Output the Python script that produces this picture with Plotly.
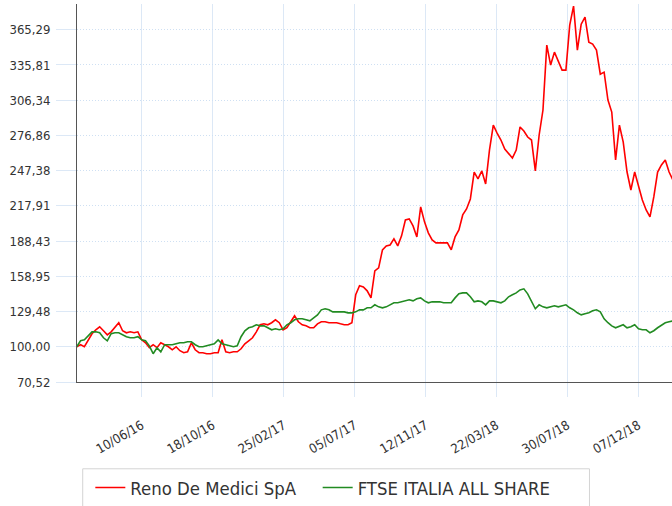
import pandas as pd
import plotly.graph_objects as go

# Weekly observation dates (Fridays)
dates = pd.date_range("2016-02-12", periods=157, freq="7D")

reno = [
    100.0, 101.7, 100.0, 105.8, 110.9, 114.2, 116.7, 113.4, 110.0, 112.5,
    115.9, 120.1, 113.4, 111.7, 112.5, 111.7, 112.5, 105.8, 103.3, 99.2,
    101.7, 99.2, 103.3, 101.7, 100.0, 97.5, 100.0, 96.7, 95.0, 95.8,
    103.3, 97.5, 95.0, 95.0, 94.2, 94.2, 95.0, 95.0, 105.8, 95.8,
    95.0, 95.8, 95.8, 98.3, 102.5, 105.0, 107.5, 112.5, 118.4, 119.2,
    118.4, 120.1, 122.6, 120.1, 114.2, 115.9, 120.9, 125.9, 120.9, 118.4,
    117.5, 115.9, 115.9, 119.2, 120.9, 120.9, 120.1, 120.1, 120.1, 119.2,
    118.4, 118.4, 120.1, 143.5, 151.0, 150.1, 146.8, 141.0, 163.5, 166.0,
    181.1, 184.4, 185.2, 190.3, 184.4, 192.8, 206.1, 207.0, 201.1, 191.9,
    217.0, 204.5, 195.3, 189.4, 186.9, 186.9, 186.9, 186.9, 181.1, 191.9,
    197.8, 210.3, 215.3, 223.7, 246.2, 240.4, 247.1, 236.2, 264.6, 285.5,
    278.8, 273.0, 265.5, 261.3, 257.9, 264.6, 283.9, 280.5, 275.5, 273.0,
    247.1, 277.2, 298.1, 352.4, 335.7, 346.5, 339.0, 331.5, 331.5, 369.1,
    385.0, 348.2, 369.9, 375.8, 354.9, 353.2, 348.2, 328.1, 329.8, 306.4,
    296.4, 256.3, 285.5, 271.3, 246.2, 231.2, 246.2, 235.4, 222.8, 214.5,
    208.6, 225.4, 246.2, 252.1, 256.3, 246.2, 239.6,
]

ftse = [
    100.0, 105.0, 105.8, 109.2, 112.5, 112.5, 111.7, 107.5, 105.0, 110.9,
    111.7, 111.7, 110.0, 108.4, 107.5, 107.5, 108.4, 105.8, 105.0, 100.8,
    94.2, 99.2, 95.8, 101.7, 101.7, 101.7, 102.5, 103.3, 103.3, 104.2,
    104.2, 101.7, 100.0, 100.0, 100.8, 101.7, 102.5, 105.8, 102.5, 101.7,
    100.8, 100.0, 100.8, 108.4, 113.4, 115.9, 116.7, 118.4, 117.5, 117.5,
    115.9, 114.2, 115.0, 114.2, 115.0, 118.4, 120.1, 122.6, 123.4, 123.4,
    122.6, 121.7, 124.2, 126.7, 130.9, 131.8, 130.9, 129.2, 129.2, 129.2,
    129.2, 128.4, 128.4, 129.2, 130.9, 130.9, 132.6, 132.6, 135.1, 133.4,
    132.6, 133.4, 135.1, 136.8, 136.8, 137.6, 138.4, 139.3, 138.4, 140.1,
    140.9, 138.4, 136.8, 137.6, 137.6, 137.6, 136.8, 136.8, 136.8, 140.9,
    144.3, 145.1, 145.1, 141.8, 137.6, 138.4, 137.6, 135.1, 138.4, 138.4,
    137.6, 136.8, 138.4, 141.8, 143.5, 145.1, 147.6, 148.5, 144.3, 137.6,
    131.8, 135.1, 133.4, 132.6, 133.4, 134.3, 133.4, 134.3, 135.1, 132.6,
    130.9, 128.4, 126.7, 127.6, 128.4, 130.1, 130.9, 129.2, 123.4, 120.1,
    117.5, 115.9, 117.5, 118.4, 115.9, 116.7, 118.4, 115.0, 114.2, 114.2,
    111.7, 113.4, 115.9, 118.4, 120.1, 120.9, 121.7,
]

series_names = ["Reno De Medici SpA", "FTSE ITALIA ALL SHARE"]
series_colors = ["#ff0000", "#228b22"]

x_tick_dates = ["2016-06-10", "2016-10-18", "2017-02-25", "2017-07-05",
                "2017-11-12", "2018-03-22", "2018-07-30", "2018-12-07"]
y_tick_vals = [70.52, 100.00, 129.48, 158.95, 188.43, 217.91,
               247.38, 276.86, 306.34, 335.81, 365.29]
y_tick_text = ["70,52", "100,00", "129,48", "158,95", "188,43", "217,91",
               "247,38", "276,86", "306,34", "335,81", "365,29"]

FONT = "DejaVu Sans Condensed, DejaVu Sans, sans-serif"

fig = go.Figure()
for name, vals, col, lg in zip(series_names, [reno, ftse], series_colors,
                               ["legend", "legend2"]):
    fig.add_trace(go.Scatter(x=dates, y=vals, mode="lines", name=name,
                             legend=lg, line=dict(color=col, width=1.6)))

legend_style = dict(orientation="h", xanchor="left", y=-0.2296, yanchor="top",
                    font=dict(size=18.4, family=FONT, color="#333333"),
                    borderwidth=0, bgcolor="rgba(0,0,0,0)")

fig.update_layout(
    width=672, height=506,
    margin=dict(l=77, r=0, t=4, b=123),
    paper_bgcolor="white", plot_bgcolor="white",
    font=dict(family=FONT, color="#333333"),
    showlegend=True,
    legend=dict(x=0.0224, **legend_style),
    legend2=dict(x=0.4045, **legend_style),
    shapes=[dict(type="rect", xref="paper", yref="paper",
                 x0=0.0096, x1=0.8613, y0=-0.2296, y1=-0.37,
                 line=dict(color="#d4d4d4", width=1), fillcolor="rgba(0,0,0,0)")],
)

fig.update_xaxes(
    type="date", range=["2016-02-12 12:00", "2019-02-06 08:00"],
    tickvals=x_tick_dates, tickformat="%d/%m/%y", tickangle=-30,
    tickfont=dict(size=13, family=FONT, color="#333333"),
    ticks="outside", ticklen=14, tickcolor="#dce8f6", tickwidth=1,
    ticklabelstandoff=16,
    showgrid=True, gridcolor="#dce8f6", gridwidth=1,
    showline=True, linecolor="#555555", linewidth=1, zeroline=False,
)
fig.update_yaxes(
    range=[70.52, 386.8],
    tickvals=y_tick_vals, ticktext=y_tick_text,
    tickfont=dict(size=13, family=FONT, color="#333333"),
    ticks="outside", ticklen=20, tickcolor="#dce8f6", tickwidth=1,
    ticklabelstandoff=3,
    showgrid=True, gridcolor="#cfe0f3", gridwidth=1, griddash="1px,2px",
    showline=True, linecolor="#555555", linewidth=1, zeroline=False,
)

fig.write_html("out.html", config={"displayModeBar": False},
               post_script="document.body.style.margin='0px';")
